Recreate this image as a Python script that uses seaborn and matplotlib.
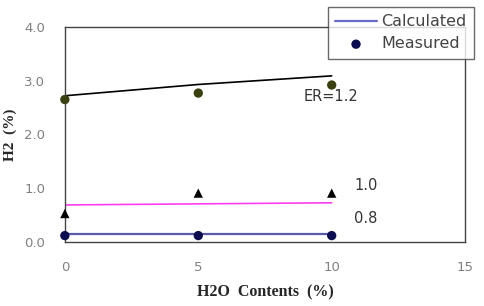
import matplotlib
matplotlib.use("Agg")
import matplotlib.pyplot as plt
import numpy as np
import pandas as pd
import seaborn as sns

# Data
h2o = [0, 5, 10]
calc_er12 = [2.72, 2.93, 3.09]
calc_er10 = [0.69, 0.71, 0.73]
calc_er08 = [0.15, 0.15, 0.15]
meas_er12 = [2.65, 2.77, 2.92]
meas_er10 = [0.53, 0.91, 0.91]
meas_er08 = [0.12, 0.12, 0.12]

sns.set_style("white")
fig, ax = plt.subplots(figsize=(4.84, 3.06), dpi=100)
fig.subplots_adjust(left=0.134, right=0.961, bottom=0.209, top=0.912)

sns.lineplot(x=h2o, y=calc_er12, color="black", lw=1.2, ax=ax)
sns.lineplot(x=h2o, y=calc_er10, color="#ff3cf0", lw=1.2, ax=ax)
sns.lineplot(x=h2o, y=calc_er08, color="#5a5aa8", lw=1.6, ax=ax, label="Calculated")

kw = dict(s=45, ax=ax, zorder=5, clip_on=False, edgecolor="none")
sns.scatterplot(x=h2o, y=meas_er12, color="#3b4010", **kw)
sns.scatterplot(x=h2o, y=meas_er10, color="black", marker="^", **kw)
sns.scatterplot(x=h2o, y=meas_er08, color="#0c0c50", label="Measured", **kw)

ax.text(8.95, 2.62, "ER=1.2", fontsize=10.5, color="#333333")
ax.text(10.85, 0.96, "1.0", fontsize=10.5, color="#333333")
ax.text(10.85, 0.35, "0.8", fontsize=10.5, color="#333333")

ax.set_xlim(0, 15)
ax.set_ylim(0, 4)
ax.set_xticks([0, 5, 10, 15])
ax.set_yticks([0, 1, 2, 3, 4])
ax.set_yticklabels(["0.0", "1.0", "2.0", "3.0", "4.0"])
ax.tick_params(axis="both", labelsize=9.5, labelcolor="#808080", length=0)
ax.tick_params(axis="x", pad=14)
ax.tick_params(axis="y", pad=14)
for s in ax.spines.values():
    s.set_color("#444444")
    s.set_linewidth(1.0)

ax.set_xlabel("H2O  Contents  (%)", fontsize=11.5, fontweight="bold",
              family="Liberation Serif", labelpad=7)
ax.set_ylabel("H2  (%)", fontsize=11, fontweight="bold",
              family="Liberation Serif", labelpad=5)

leg = ax.legend(loc="upper right", bbox_to_anchor=(474 / 484, 1 - 7 / 306),
                bbox_transform=fig.transFigure, frameon=True, fancybox=False,
                fontsize=11.5, handlelength=2.6, borderpad=0.45,
                labelspacing=0.45, handletextpad=0.3, borderaxespad=0)
leg.get_frame().set_edgecolor("#444444")
leg.get_frame().set_linewidth(1.0)
leg.get_lines()[0].set_color("#6a6acc")
for t in leg.get_texts():
    t.set_color("#444444")

fig.savefig("out.png", dpi=100)
